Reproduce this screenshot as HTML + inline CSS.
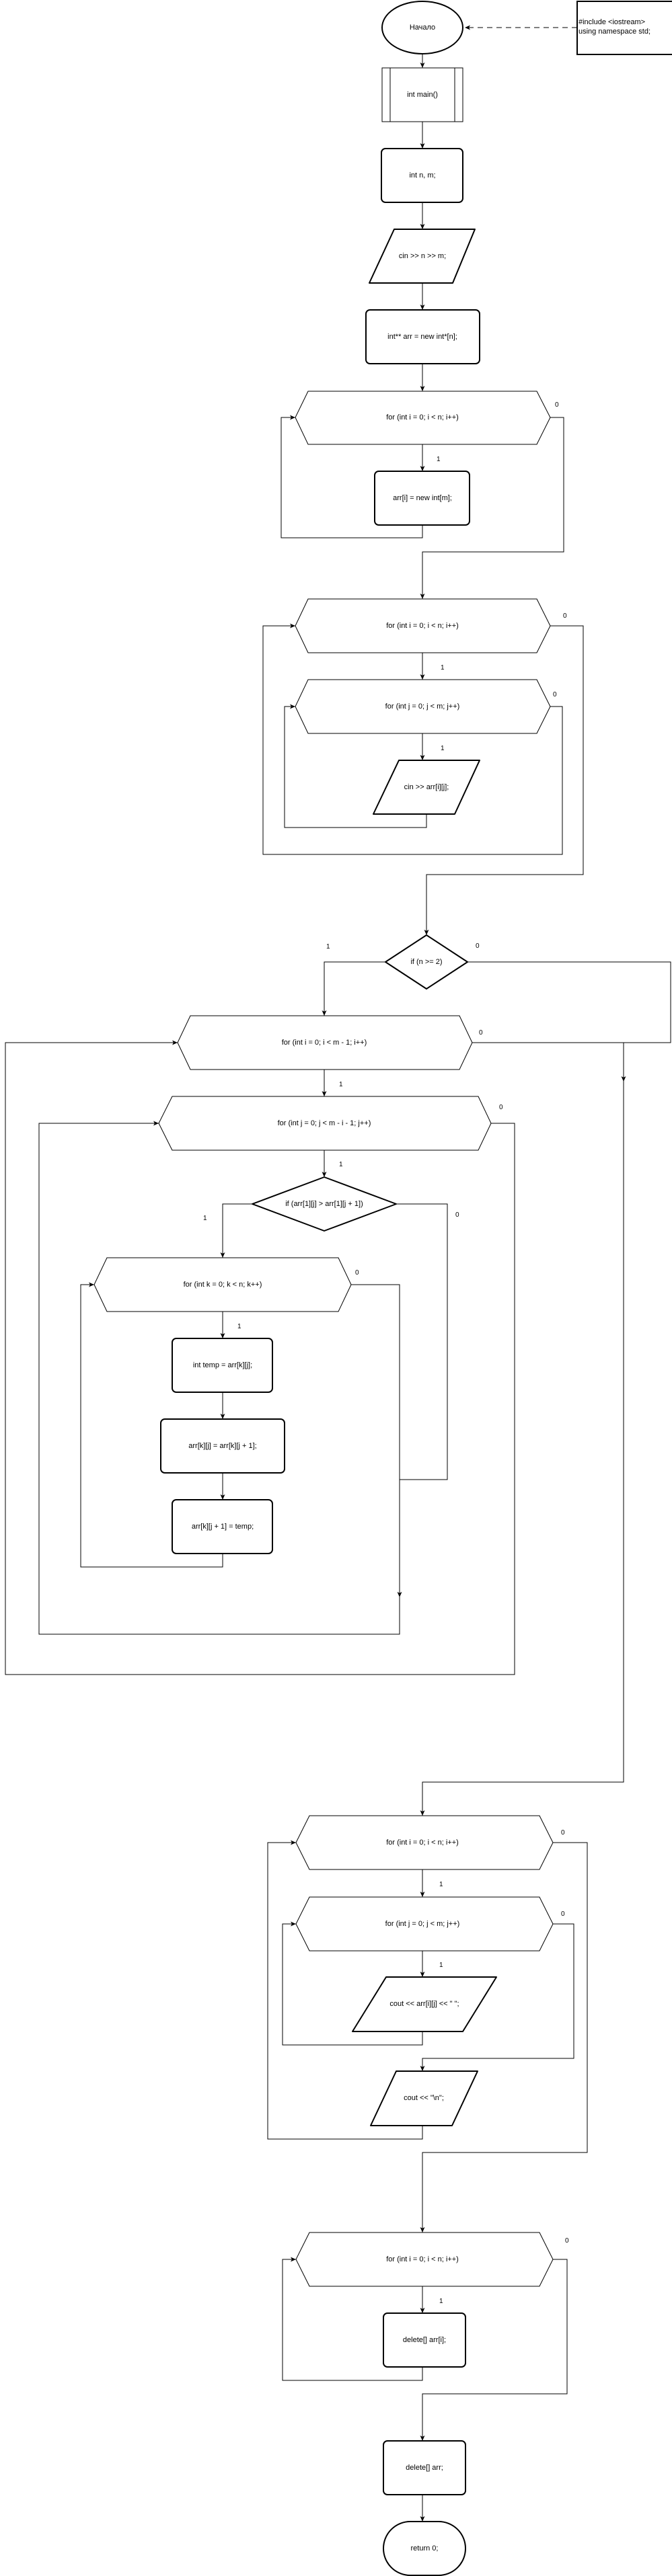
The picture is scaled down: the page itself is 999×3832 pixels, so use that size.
<!DOCTYPE html>
<html><head><meta charset="utf-8">
<style>
html,body{margin:0;padding:0;background:#fff;}
svg{display:block;}
text{font-family:"Liberation Sans",Arial,sans-serif;font-size:11px;fill:#000;}
.t{text-anchor:middle;dominant-baseline:central;}
.l{font-size:10px;}
.s{fill:#fff;stroke:#000;stroke-width:2;stroke-linejoin:round;}
.h{fill:#fff;stroke:#000;stroke-width:1;}
.e{fill:none;stroke:#000;stroke-width:1;}
</style></head>
<body>
<svg width="999" height="3832" viewBox="0 0 999 3832" xmlns="http://www.w3.org/2000/svg">
<defs>
<marker id="a" markerWidth="10" markerHeight="10" refX="9" refY="5" orient="auto" markerUnits="userSpaceOnUse">
<path d="M1,1.5 L9,5 L1,8.5 L3,5 Z" fill="#000"/>
</marker>
</defs>

<!-- shapes -->
<ellipse class="s" cx="628" cy="41" rx="60" ry="39"/>
<text class="t" x="628" y="41">Начало</text>

<rect x="858" y="2" width="145" height="79" fill="#fff" stroke="#000" stroke-width="2"/>
<text x="860" y="36">#include &lt;iostream&gt;</text>
<text x="860" y="50">using namespace std;</text>
<line class="e" x1="858" y1="41" x2="691" y2="41" stroke-dasharray="8,6" marker-end="url(#a)"/>

<rect class="h" x="568" y="101" width="120" height="80"/>
<line class="e" x1="580" y1="101" x2="580" y2="181"/>
<line class="e" x1="676" y1="101" x2="676" y2="181"/>
<text class="t" x="628" y="141">int main()</text>

<rect class="s" x="567" y="221" width="121" height="80" rx="6"/>
<text class="t" x="628" y="261">int n, m;</text>

<polygon class="s" points="586,341 706,341 673,421 549,421"/>
<text class="t" x="628" y="381">cin &gt;&gt; n &gt;&gt; m;</text>

<rect class="s" x="544" y="461" width="169" height="80" rx="6"/>
<text class="t" x="628" y="501">int** arr = new int*[n];</text>

<!-- hex1 -->
<polygon class="h" points="458,582 798,582 818,621 798,661 458,661 439,621"/>
<text class="t" x="628" y="621">for (int i = 0; i &lt; n; i++)</text>
<rect class="s" x="557" y="701" width="141" height="80" rx="6"/>
<text class="t" x="628" y="741">arr[i] = new int[m];</text>

<!-- hex2/hex3 -->
<polygon class="h" points="458,891 798,891 818,931 798,971 458,971 439,931"/>
<text class="t" x="628" y="931">for (int i = 0; i &lt; n; i++)</text>
<polygon class="h" points="458,1011 798,1011 818,1051 798,1091 458,1091 439,1051"/>
<text class="t" x="628" y="1051">for (int j = 0; j &lt; m; j++)</text>
<polygon class="s" points="593,1131 713,1131 676,1211 555,1211"/>
<text class="t" x="634" y="1171">cin &gt;&gt; arr[i][j];</text>

<!-- diamond -->
<polygon class="s" points="634,1391 695,1431 634,1471 573,1431"/>
<text class="t" x="634" y="1431">if (n &gt;= 2)</text>

<!-- hex4 / hex5 -->
<polygon class="h" points="283,1511 683,1511 702,1551 683,1591 283,1591 264,1551"/>
<text class="t" x="482" y="1551">for (int i = 0; i &lt; m - 1; i++)</text>
<polygon class="h" points="256,1631 711,1631 730,1671 711,1711 256,1711 236,1671"/>
<text class="t" x="482" y="1671">for (int j = 0; j &lt; m - i - 1; j++)</text>

<polygon class="s" points="482,1751 589,1791 482,1831 375,1791"/>
<text class="t" x="482" y="1791">if (arr[1][j] &gt; arr[1][j + 1])</text>

<polygon class="h" points="159,1871 503,1871 522,1911 503,1951 159,1951 140,1911"/>
<text class="t" x="331" y="1911">for (int k = 0; k &lt; n; k++)</text>
<rect class="s" x="256" y="1991" width="149" height="80" rx="6"/>
<text class="t" x="331" y="2031">int temp = arr[k][j];</text>
<rect class="s" x="239" y="2111" width="184" height="80" rx="6"/>
<text class="t" x="331" y="2151">arr[k][j] = arr[k][j + 1];</text>
<rect class="s" x="256" y="2231" width="149" height="80" rx="6"/>
<text class="t" x="331" y="2271">arr[k][j + 1] = temp;</text>

<!-- output -->
<polygon class="h" points="460,2701 802,2701 822,2741 802,2781 460,2781 440,2741"/>
<text class="t" x="628" y="2741">for (int i = 0; i &lt; n; i++)</text>
<polygon class="h" points="460,2822 802,2822 822,2862 802,2902 460,2902 440,2862"/>
<text class="t" x="628" y="2862">for (int j = 0; j &lt; m; j++)</text>
<polygon class="s" points="574,2941 738,2941 688,3022 524,3022"/>
<text class="t" x="631" y="2981">cout &lt;&lt; arr[i][j] &lt;&lt; " ";</text>
<polygon class="s" points="589,3081 710,3081 672,3162 551,3162"/>
<text class="t" x="630" y="3121">cout &lt;&lt; "\n";</text>

<polygon class="h" points="460,3321 802,3321 822,3361 802,3401 460,3401 440,3361"/>
<text class="t" x="628" y="3361">for (int i = 0; i &lt; n; i++)</text>
<rect class="s" x="570" y="3441" width="122" height="80" rx="6"/>
<text class="t" x="631" y="3481">delete[] arr[i];</text>
<rect class="s" x="570" y="3631" width="122" height="80" rx="6"/>
<text class="t" x="631" y="3671">delete[] arr;</text>
<rect class="s" x="570" y="3751" width="122" height="80" rx="40"/>
<text class="t" x="631" y="3791">return 0;</text>

<!-- edges -->
<polyline class="e" points="628,80 628,101" marker-end="url(#a)"/>
<polyline class="e" points="628,181 628,221" marker-end="url(#a)"/>
<polyline class="e" points="628,301 628,341" marker-end="url(#a)"/>
<polyline class="e" points="628,421 628,461" marker-end="url(#a)"/>
<polyline class="e" points="628,541 628,582" marker-end="url(#a)"/>
<polyline class="e" points="628,661 628,701" marker-end="url(#a)"/>
<polyline class="e" points="628,781 628,800 418,800 418,621 439,621" marker-end="url(#a)"/>
<polyline class="e" points="818,621 838,621 838,821 628,821 628,891" marker-end="url(#a)"/>
<polyline class="e" points="628,971 628,1011" marker-end="url(#a)"/>
<polyline class="e" points="628,1091 628,1131" marker-end="url(#a)"/>
<polyline class="e" points="634,1211 634,1231 423,1231 423,1051 439,1051" marker-end="url(#a)"/>
<polyline class="e" points="818,1051 836,1051 836,1271 391,1271 391,931 439,931" marker-end="url(#a)"/>
<polyline class="e" points="818,931 867,931 867,1301 634,1301 634,1391" marker-end="url(#a)"/>
<polyline class="e" points="573,1431 482,1431 482,1511" marker-end="url(#a)"/>
<polyline class="e" points="695,1431 997,1431 997,1551 702,1551"/>
<polyline class="e" points="927,1551 927,1609" marker-end="url(#a)"/>
<polyline class="e" points="927,1605 927,2651 628,2651 628,2701" marker-end="url(#a)"/>
<polyline class="e" points="482,1591 482,1631" marker-end="url(#a)"/>
<polyline class="e" points="482,1711 482,1751" marker-end="url(#a)"/>
<polyline class="e" points="375,1791 331,1791 331,1871" marker-end="url(#a)"/>
<polyline class="e" points="589,1791 665,1791 665,2201 594,2201"/>
<polyline class="e" points="331,1951 331,1991" marker-end="url(#a)"/>
<polyline class="e" points="331,2071 331,2111" marker-end="url(#a)"/>
<polyline class="e" points="331,2191 331,2231" marker-end="url(#a)"/>
<polyline class="e" points="331,2311 331,2331 120,2331 120,1911 140,1911" marker-end="url(#a)"/>
<polyline class="e" points="522,1911 594,1911 594,2376" marker-end="url(#a)"/>
<polyline class="e" points="594,2372 594,2431 58,2431 58,1671 236,1671" marker-end="url(#a)"/>
<polyline class="e" points="730,1671 765,1671 765,2491 8,2491 8,1551 264,1551" marker-end="url(#a)"/>
<polyline class="e" points="628,2781 628,2822" marker-end="url(#a)"/>
<polyline class="e" points="628,2902 628,2941" marker-end="url(#a)"/>
<polyline class="e" points="628,3022 628,3042 420,3042 420,2862 440,2862" marker-end="url(#a)"/>
<polyline class="e" points="822,2862 853,2862 853,3062 628,3062 628,3081" marker-end="url(#a)"/>
<polyline class="e" points="628,3162 628,3182 398,3182 398,2741 440,2741" marker-end="url(#a)"/>
<polyline class="e" points="822,2741 873,2741 873,3202 628,3202 628,3321" marker-end="url(#a)"/>
<polyline class="e" points="628,3401 628,3441" marker-end="url(#a)"/>
<polyline class="e" points="628,3521 628,3541 420,3541 420,3361 440,3361" marker-end="url(#a)"/>
<polyline class="e" points="822,3361 843,3361 843,3561 628,3561 628,3631" marker-end="url(#a)"/>
<polyline class="e" points="628,3711 628,3751" marker-end="url(#a)"/>

<!-- labels -->
<text class="l" x="825" y="605">0</text>
<text class="l" x="649" y="686">1</text>
<text class="l" x="837" y="919">0</text>
<text class="l" x="655" y="996">1</text>
<text class="l" x="822" y="1036">0</text>
<text class="l" x="655" y="1116">1</text>
<text class="l" x="485" y="1411">1</text>
<text class="l" x="707" y="1410">0</text>
<text class="l" x="712" y="1539">0</text>
<text class="l" x="504" y="1616">1</text>
<text class="l" x="742" y="1650">0</text>
<text class="l" x="504" y="1735">1</text>
<text class="l" x="302" y="1815">1</text>
<text class="l" x="677" y="1810">0</text>
<text class="l" x="528" y="1896">0</text>
<text class="l" x="353" y="1976">1</text>
<text class="l" x="834" y="2729">0</text>
<text class="l" x="653" y="2806">1</text>
<text class="l" x="834" y="2850">0</text>
<text class="l" x="653" y="2926">1</text>
<text class="l" x="840" y="3336">0</text>
<text class="l" x="653" y="3426">1</text>
</svg>
</body></html>
